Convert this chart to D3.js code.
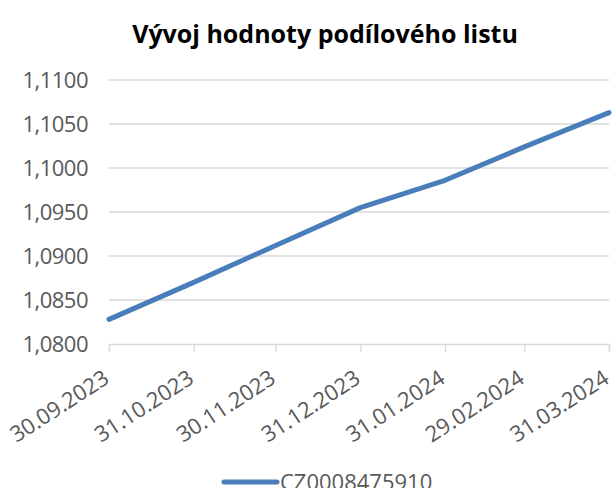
<!DOCTYPE html>
<html>
<head>
<meta charset="utf-8">
<script src="https://cdn.jsdelivr.net/npm/d3@7"></script>
<style>
  body { margin: 0; background: #fff; }
  text { font-family: "Open Sans", "Noto Sans", sans-serif; }
</style>
</head>
<body>
<div id="chart"></div>
<script>
const dates = ["30.09.2023", "31.10.2023", "30.11.2023", "31.12.2023", "31.01.2024", "29.02.2024", "31.03.2024"];
const values = [1.0828, 1.0870, 1.0912, 1.0955, 1.0986, 1.1024, 1.1063];
const yTicks = [1.08, 1.085, 1.09, 1.095, 1.1, 1.105, 1.11];
const seriesName = "CZ0008475910";
const title = "Vývoj hodnoty podílového listu";

const width = 614, height = 488;
const margin = {top: 80, right: 5, bottom: 144, left: 109};

const parse = d3.timeParse("%d.%m.%Y");
const data = dates.map((d, i) => ({date: parse(d), label: d, value: values[i]}));

const svg = d3.select("#chart").append("svg")
    .attr("width", width)
    .attr("height", height);

const x = d3.scaleTime()
    .domain(d3.extent(data, d => d.date))
    .range([margin.left, width - margin.right]);

const y = d3.scaleLinear()
    .domain([1.08, 1.11])
    .range([height - margin.bottom, margin.top]);

const fmt = v => d3.format(".4f")(v).replace(".", ",");

// gridlines
svg.append("g")
    .selectAll("line")
    .data(yTicks.slice(1))
    .enter().append("line")
    .attr("x1", margin.left)
    .attr("x2", width - margin.right)
    .attr("y1", d => y(d))
    .attr("y2", d => y(d))
    .style("stroke", "#d9d9d9")
    .style("stroke-width", 1.3);

// y labels
svg.append("g")
    .selectAll("text")
    .data(yTicks)
    .enter().append("text")
    .attr("x", 88)
    .attr("y", d => y(d))
    .attr("dy", "0.35em")
    .attr("text-anchor", "end")
    .style("font-size", "22px")
    .style("letter-spacing", "-0.5px")
    .style("fill", "#595959")
    .text(fmt);

// x axis
const xAxis = svg.append("g")
    .attr("transform", "translate(0," + y(1.08) + ")")
    .call(d3.axisBottom(x)
        .tickValues(data.map(d => d.date))
        .tickSize(8)
        .tickFormat(d3.timeFormat("%d.%m.%Y")));

xAxis.select(".domain").style("stroke", "#d9d9d9").style("stroke-width", 1.3);
xAxis.selectAll(".tick line").style("stroke", "#d9d9d9").style("stroke-width", 1.3);
xAxis.selectAll(".tick text")
    .style("font-size", "22px")
    .style("fill", "#595959")
    .attr("text-anchor", "end")
    .attr("x", 0)
    .attr("y", 0)
    .attr("dy", 0)
    .attr("transform", "translate(1,38) rotate(-33)");

// line
svg.append("path")
    .datum(data)
    .attr("d", d3.line().x(d => x(d.date)).y(d => y(d.value)))
    .style("fill", "none")
    .style("stroke", "#4a7ebb")
    .style("stroke-width", 5)
    .style("stroke-linecap", "round")
    .style("stroke-linejoin", "round");

// title
svg.append("text")
    .attr("x", 325)
    .attr("y", 43)
    .attr("text-anchor", "middle")
    .style("font-size", "25px")
    .style("font-weight", "bold")
    .style("fill", "#000")
    .text(title);

// legend
const lg = svg.append("g");
lg.append("line")
    .attr("x1", 224).attr("x2", 277)
    .attr("y1", 482).attr("y2", 482)
    .style("stroke", "#4a7ebb")
    .style("stroke-width", 5)
    .style("stroke-linecap", "round");
lg.append("text")
    .attr("x", 280)
    .attr("y", 482)
    .attr("dy", "0.35em")
    .style("font-size", "22px")
    .style("fill", "#595959")
    .text(seriesName);
</script>
</body>
</html>
